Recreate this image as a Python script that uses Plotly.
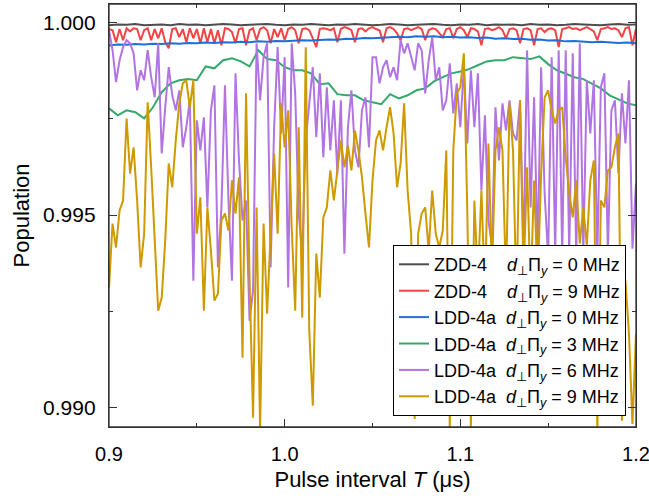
import numpy as np
import plotly.graph_objects as go

# ---------------- data ----------------
T_fine = np.round(0.9 + 0.002 * np.arange(151), 4)     # pulse interval (us)
T_coarse = np.round(0.9 + 0.005 * np.arange(61), 4)

x_ticks = [0.9, 1.0, 1.1, 1.2]
y_ticks = [0.990, 0.995, 1.000]

zdd4_0 = [
    .99993, .99995, .99994, .99996, .99993, .99994, .99995, .99993, .99996, .99994,
    .99995, .99993, .99994, .99996, .99995, .99993, .99994, .99995, .99996, .99994,
    .99993, .99995, .99994, .99996, .99994, .99993, .99995, .99994, .99996, .99995,
    .99993, .99994, .99996, .99995, .99993, .99994, .99995, .99996, .99994, .99993,
    .99995, .99994, .99996, .99993, .99995, .99994, .99995, .99993, .99996, .99994,
    .99995, .99993, .99994, .99996, .99995, .99994, .99993, .99995, .99996, .99994,
    .99995]

zdd4_9 = [
    .99983, .99980, .99949, .99983, .99954, .99985, .99977, .99985, .99983, .99954,
    .99980, .99985, .99954, .99983, .99959, .99985, .99949, .99933, .99983, .99985,
    .99962, .99983, .99949, .99985, .99959, .99983, .99946, .99985, .99949, .99983,
    .99946, .99980, .99941, .99985, .99983, .99975, .99946, .99983, .99985, .99941,
    .99980, .99985, .99954, .99983, .99988, .99980, .99946, .99983, .99962, .99985,
    .99954, .99983, .99988, .99980, .99946, .99983, .99985, .99980, .99959, .99936,
    .99983, .99985, .99983, .99980, .99985, .99949, .99983, .99988, .99985, .99980,
    .99949, .99983, .99985, .99977, .99985, .99988, .99983, .99980, .99949, .99985,
    .99988, .99983, .99972, .99954, .99983, .99985, .99980, .99985, .99988, .99983,
    .99954, .99980, .99985, .99983, .99972, .99962, .99983, .99985, .99959, .99983,
    .99988, .99980, .99962, .99985, .99983, .99977, .99941, .99983, .99985, .99980,
    .99983, .99988, .99980, .99959, .99983, .99985, .99980, .99946, .99983, .99985,
    .99980, .99941, .99983, .99985, .99975, .99983, .99985, .99980, .99936, .99983,
    .99985, .99988, .99983, .99985, .99980, .99985, .99988, .99983, .99977, .99954,
    .99983, .99985, .99988, .99983, .99985, .99980, .99962, .99985, .99988, .99941,
    .99983]

ldd4a_0 = [
    .99940, .99943, .99942, .99944, .99943, .99945, .99944, .99946, .99945, .99947,
    .99946, .99948, .99947, .99949, .99948, .99950, .99949, .99951, .99950, .99952,
    .99951, .99953, .99954, .99953, .99955, .99956, .99955, .99958, .99957, .99960,
    .99959, .99961, .99962, .99963, .99962, .99964, .99963, .99964, .99962, .99963,
    .99961, .99962, .99960, .99961, .99958, .99959, .99957, .99958, .99955, .99956,
    .99953, .99954, .99951, .99952, .99950, .99949, .99950, .99948, .99947, .99948,
    .99946]

ldd4a_3 = [
    .99777, .99759, .99772, .99767, .99751, .99780, .99819, .99842, .99850, .99853,
    .99850, .99886, .99881, .99902, .99907, .99899, .99886, .99928, .99905, .99902,
    .99884, .99876, .99876, .99868, .99840, .99842, .99814, .99811, .99811, .99798,
    .99793, .99788, .99814, .99803, .99811, .99824, .99829, .99847, .99858, .99868,
    .99873, .99879, .99889, .99899, .99902, .99902, .99910, .99907, .99905, .99912,
    .99892, .99876, .99866, .99858, .99853, .99840, .99829, .99811, .99801, .99790,
    .99785]

ldd4a_6 = [
    .99980, .99928, .99845, .99902, .99936, .99954, .99946, .99920, .99824, .99876,
    .99850, .99928, .99858, .99806, .99946, .99660, .99780, .99884, .99811, .99772,
    .99824, .99676, .99728, .99798, .99330, .99746, .99668, .99754, .99520, .99772,
    .99837, .99364, .99520, .99837, .99538, .99330, .99868, .99642, .99486, .99538,
    .99226, .99304, .99946, .99798, .99910, .99946, .99364, .99728, .99936, .99712,
    .99910, .99312, .99946, .99816, .99504, .99400, .99694, .99798, .99884, .99702,
    .99868, .99650, .99832, .99668, .99798, .99608, .99798, .99400, .99728, .99824,
    .99668, .99624, .99772, .99806, .99676, .99910, .99910, .99842, .99884, .99902,
    .99858, .99884, .99850, .99954, .99920, .99946, .99910, .99876, .99946, .99928,
    .99816, .99902, .99962, .99850, .99884, .99772, .99798, .99894, .99764, .99842,
    .99728, .99884, .99686, .99876, .99728, .99868, .99564, .99759, .99486, .99420,
    .99780, .99642, .99790, .99720, .99798, .99712, .99694, .99798, .99400, .99928,
    .99520, .99806, .99400, .99884, .99556, .99390, .99910, .99400, .99928, .99395,
    .99928, .99400, .99920, .99390, .99946, .99400, .99850, .99712, .99850, .99395,
    .99832, .99868, .99400, .99772, .99798, .99608, .99816, .99686, .99850, .99413,
    .99582]

ldd4a_9 = [
    .99312, .99478, .99416, .99512, .99538, .99751, .99608, .99676, .99538, .99364,
    .99452, .99793, .99624, .99452, .99252, .99286, .99434, .99634, .99572, .99694,
    .99790, .99842, .99850, .99780, .99850, .99452, .99546, .99252, .99520, .99408,
    .99278, .99296, .99486, .99504, .99460, .99590, .99504, .99598, .99130, .99816,
    .99338, .98974, .99520, .98940, .99478, .99244, .99460, .99660, .99452, .99790,
    .99676, .99772, .99468, .99252, .99728, .99234, .99936, .99200, .99005, .99400,
    .99286, .99494, .99520, .99616, .99538, .99624, .99694, .99624, .99681, .99616,
    .99720, .99668, .99598, .99504, .99416, .99590, .99694, .99720, .99668, .99728,
    .99780, .99712, .99572, .99634, .99790, .99564, .99452, .98971, .99452, .99504,
    .99520, .99408, .99564, .99452, .99416, .99460, .99668, .98940, .99668, .99816,
    .99832, .99920, .99504, .98948, .99538, .99330, .99564, .99300, .99686, .99350,
    .99668, .99728, .99668, .99320, .99790, .99668, .99280, .99798, .99340, .99624,
    .99300, .99590, .99320, .99608, .99806, .99824, .99772, .99738, .99772, .99780,
    .99650, .99556, .99494, .99590, .99426, .99520, .99421, .99590, .99642, .98940,
    .99538, .99520, .99616, .99624, .99676, .99712, .98966, .99330, .99192, .98958,
    .99192]

sp = "\u00a0"
lab = "<i>d</i><sub>⊥</sub>Π<sub><i>y</i></sub>"
names = [
    f"ZDD-4{sp*4}{lab} = 0 MHz",
    f"ZDD-4{sp*4}{lab} = 9 MHz",
    f"LDD-4a{sp*2}{lab} = 0 MHz",
    f"LDD-4a{sp*2}{lab} = 3 MHz",
    f"LDD-4a{sp*2}{lab} = 6 MHz",
    f"LDD-4a{sp*2}{lab} = 9 MHz",
]
colors = ["#4d4d4d", "#f24444", "#1f6fdb", "#35a86c", "#b274e2", "#cf9a00"]
series = [
    (T_coarse, zdd4_0), (T_fine, zdd4_9), (T_coarse, ldd4a_0),
    (T_coarse, ldd4a_3), (T_fine, ldd4a_6), (T_fine, ldd4a_9),
]

fig = go.Figure()
for (x, y), n, c in zip(series, names, colors):
    fig.add_trace(go.Scatter(x=x, y=y, mode="lines", name=n,
                             line=dict(color=c, width=2), legendgroup=n))

font = "Liberation Sans, Arial, sans-serif"
axc = "#333333"
fig.update_layout(
    width=649, height=498,
    margin=dict(l=109, r=13, t=4, b=71),
    paper_bgcolor="white", plot_bgcolor="white",
    font=dict(family=font, color="black"),
    showlegend=True,
    legend=dict(x=0.981, y=0.430, xanchor="right", yanchor="top",
                bgcolor="white", bordercolor="black", borderwidth=1,
                font=dict(size=18, family=font), tracegroupgap=0,
                traceorder="grouped"),
)
fig.add_shape(type="rect", xref="paper", yref="paper", x0=0, x1=1, y0=0, y1=1,
              line=dict(color=axc, width=1.3), layer="above")
fig.update_xaxes(
    range=[0.89999, 1.20001], tickvals=x_ticks, tickformat=".1f",
    automargin=False, ticklabeloverflow="allow",
    showline=True, linecolor=axc, linewidth=1.3, mirror="allticks",
    ticks="inside", ticklen=8, tickwidth=1.2, tickcolor=axc,
    minor=dict(tickvals=[0.95, 1.05, 1.15], ticks="inside", ticklen=4, tickcolor=axc),
    showgrid=False, zeroline=False,
    tickfont=dict(size=20), ticklabelstandoff=9,
    title=dict(text="Pulse interval <i>T</i> (μs)", font=dict(size=22), standoff=7),
)
fig.update_yaxes(
    range=[0.98950, 1.00048], tickvals=y_ticks, tickformat=".3f",
    automargin=False, ticklabeloverflow="allow",
    showline=True, linecolor=axc, linewidth=1.3, mirror="allticks",
    ticks="inside", ticklen=8, tickwidth=1.2, tickcolor=axc,
    minor=dict(tickvals=[0.9925, 0.9975], ticks="inside", ticklen=4, tickcolor=axc),
    showgrid=False, zeroline=False,
    tickfont=dict(size=21), ticklabelstandoff=8,
    title=dict(text="Population", font=dict(size=22), standoff=7),
)

fig.write_html("out.html", config={"displayModeBar": False},
               post_script="document.body.style.margin='0';")
